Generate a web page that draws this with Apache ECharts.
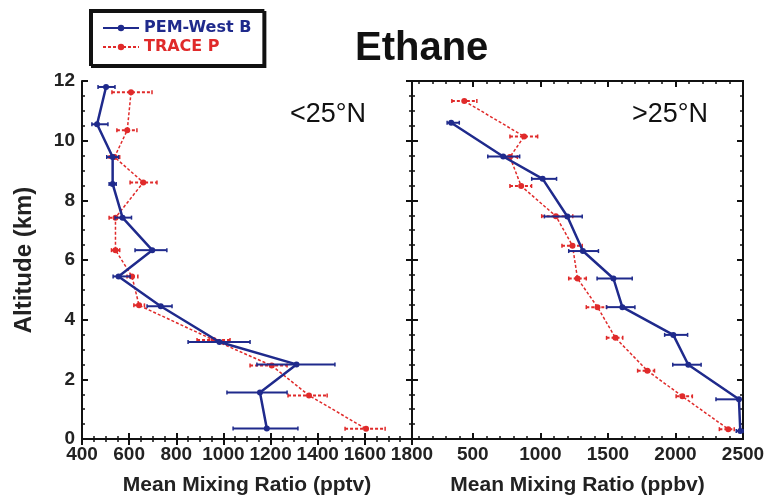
<!DOCTYPE html>
<html>
<head>
<meta charset="utf-8">
<script src="https://cdn.jsdelivr.net/npm/echarts@6/dist/echarts.min.js"></script>
<style>
html, body { margin: 0; padding: 0; background: #fff; }
#main { width: 769px; height: 501px; }
</style>
</head>
<body>
<div id="main"></div>
<script>
// left panel, < 25N (pptv)
var pemLowAlt = [11.8, 10.55, 9.45, 8.55, 7.42, 6.33, 5.45, 4.45, 3.25, 2.5, 1.56, 0.35];
var pemLowVal = [502, 464, 530, 530, 572, 698, 555, 734, 983, 1310, 1155, 1184];
var pemLowLo = [468, 442, 505, 515, 540, 625, 532, 676, 850, 1142, 1015, 1041];
var pemLowHi = [540, 510, 555, 545, 610, 760, 604, 782, 1113, 1473, 1270, 1316];

var traceLowAlt = [11.62, 10.35, 9.45, 8.6, 7.42, 6.33, 5.45, 4.48, 3.32, 2.46, 1.46, 0.34];
var traceLowVal = [608, 592, 538, 660, 542, 542, 612, 642, 958, 1205, 1363, 1605];
var traceLowLo = [527, 548, 515, 604, 515, 525, 591, 620, 888, 1113, 1274, 1516];
var traceLowHi = [697, 633, 560, 718, 570, 560, 637, 665, 1028, 1270, 1440, 1686];

// right panel, > 25N (ppbv)
var pemHighAlt = [10.6, 9.47, 8.72, 7.46, 6.3, 5.38, 4.42, 3.49, 2.49, 1.33, 0.27];
var pemHighVal = [340, 725, 1017, 1200, 1315, 1541, 1607, 1984, 2095, 2470, 2480];
var pemHighLo = [310, 611, 936, 1030, 1210, 1420, 1490, 1920, 1980, 2300, 2450];
var pemHighHi = [400, 847, 1120, 1310, 1430, 1680, 1700, 2090, 2190, 2480, 2500];

var traceHighAlt = [11.33, 10.14, 9.45, 8.48, 7.47, 6.48, 5.38, 4.42, 3.39, 2.29, 1.43, 0.33];
var traceHighVal = [437, 880, 775, 858, 1115, 1238, 1275, 1423, 1556, 1792, 2051, 2391];
var traceHighLo = [345, 775, 740, 775, 1010, 1160, 1210, 1340, 1490, 1720, 2005, 2325];
var traceHighHi = [530, 980, 830, 935, 1240, 1310, 1340, 1490, 1610, 1845, 2125, 2435];

var ppbvTicks = [500, 1000, 1500, 2000, 2500];
var ppbvMinor = [];
for (var m = 100; m < 2500; m += 100) ppbvMinor.push(m);

var blue = '#1f2a8c';
var red = '#e02a2a';
var font = 'Liberation Sans, Arial, sans-serif';

function pts(vals, alts) {
    return vals.map(function (v, i) { return [v, alts[i]]; });
}
function bars(lo, hi, alts) {
    return lo.map(function (v, i) { return [v, hi[i], alts[i]]; });
}
function plain(v) { return String(v); }
function errRender(color, dashed, width) {
    return function (params, api) {
        var a = api.coord([api.value(0), api.value(2)]);
        var b = api.coord([api.value(1), api.value(2)]);
        var st = { stroke: color, lineWidth: width, lineDash: dashed ? [3, 2] : null };
        return {
            type: 'group',
            children: [
                { type: 'line', shape: { x1: a[0], y1: a[1], x2: b[0], y2: b[1] }, style: st },
                { type: 'line', shape: { x1: a[0], y1: a[1] - 2, x2: a[0], y2: a[1] + 2 }, style: { stroke: color, lineWidth: 1.5 } },
                { type: 'line', shape: { x1: b[0], y1: b[1] - 2, x2: b[0], y2: b[1] + 2 }, style: { stroke: color, lineWidth: 1.5 } }
            ]
        };
    };
}

var axisLine = { show: true, lineStyle: { color: '#111', width: 2 } };
var majorTick = { show: true, inside: true, length: 6, lineStyle: { color: '#111', width: 2 } };
var minorTick = { show: true, splitNumber: 4, length: 3, lineStyle: { color: '#111', width: 1.5 } };
var tickLabel = {
    color: '#222', fontSize: 19, fontWeight: 'bold', fontFamily: font,
    formatter: plain, showMinLabel: true, showMaxLabel: true
};
var nameStyle = { color: '#222', fontSize: 21, fontWeight: 'bold', fontFamily: font };

function ppbvAxis(pos, ticks, len, labels) {
    return {
        type: 'value', gridIndex: 1, position: pos, min: 50, max: 2500,
        axisLine: axisLine, splitLine: { show: false },
        axisTick: { show: true, inside: true, length: len, customValues: ticks, lineStyle: { color: '#111', width: len > 4 ? 2 : 1.5 } },
        axisLabel: labels ? Object.assign({ customValues: ppbvTicks, margin: 6 }, tickLabel) : { show: false }
    };
}

var myChart = echarts.init(document.getElementById('main'));
var option = {
    animation: false,
    backgroundColor: '#fff',
    textStyle: { fontFamily: font },
    title: {
        text: 'Ethane', left: 350, top: 24,
        textStyle: { fontSize: 40, fontWeight: 'bold', color: '#111', fontFamily: font }
    },
    legend: {
        data: [
            { name: 'PEM-West B', textStyle: { color: blue } },
            { name: 'TRACE P', textStyle: { color: red } }
        ],
        orient: 'vertical', left: 90, top: 10,
        padding: [10, 12], itemGap: 3, itemWidth: 36, itemHeight: 8,
        backgroundColor: '#fff', borderColor: '#111', borderWidth: 2,
        shadowColor: '#111', shadowOffsetX: 2, shadowOffsetY: 2, shadowBlur: 0,
        textStyle: { fontSize: 16, fontWeight: 'bold', fontFamily: 'DejaVu Sans, sans-serif' }
    },
    grid: [
        { left: 82, right: 357, top: 81, bottom: 59 },
        { left: 412, right: 26, top: 81, bottom: 59 }
    ],
    xAxis: [
        {
            type: 'value', gridIndex: 0, position: 'bottom', min: 400, max: 1800, interval: 200,
            axisLine: axisLine, axisTick: majorTick, minorTick: minorTick, splitLine: { show: false }, minorSplitLine: { show: false },
            axisLabel: Object.assign({ margin: 6 }, tickLabel),
            name: 'Mean Mixing Ratio (pptv)', nameLocation: 'middle', nameGap: 36, nameTextStyle: nameStyle
        },
        {
            type: 'value', gridIndex: 0, position: 'top', min: 400, max: 1800, interval: 200,
            axisLine: axisLine, axisTick: majorTick, minorTick: minorTick, splitLine: { show: false },
            axisLabel: { show: false }
        },
        Object.assign(ppbvAxis('bottom', ppbvTicks, 6, true), {
            name: 'Mean Mixing Ratio (ppbv)', nameLocation: 'middle', nameGap: 36, nameTextStyle: nameStyle
        }),
        ppbvAxis('bottom', ppbvMinor, 3, false),
        ppbvAxis('top', ppbvTicks, 6, false),
        ppbvAxis('top', ppbvMinor, 3, false)
    ],
    yAxis: [
        {
            type: 'value', gridIndex: 0, position: 'left', min: 0, max: 12, interval: 2,
            axisLine: axisLine, axisTick: majorTick, minorTick: minorTick, splitLine: { show: false },
            axisLabel: Object.assign({ margin: 7 }, tickLabel),
            name: 'Altitude (km)', nameLocation: 'middle', nameRotate: 90, nameGap: 46,
            nameTextStyle: { color: '#222', fontSize: 24, fontWeight: 'bold', fontFamily: font }
        },
        {
            type: 'value', gridIndex: 0, position: 'right', min: 0, max: 12, interval: 2,
            axisLine: axisLine, axisTick: majorTick, minorTick: minorTick, splitLine: { show: false },
            axisLabel: { show: false }
        },
        {
            type: 'value', gridIndex: 1, position: 'left', min: 0, max: 12, interval: 2,
            axisLine: axisLine, axisTick: majorTick, minorTick: minorTick, splitLine: { show: false },
            axisLabel: { show: false }
        },
        {
            type: 'value', gridIndex: 1, position: 'right', min: 0, max: 12, interval: 2,
            axisLine: axisLine, axisTick: majorTick, minorTick: minorTick, splitLine: { show: false },
            axisLabel: { show: false }
        }
    ],
    graphic: [
        { type: 'text', left: 290, top: 101, style: { text: '<25°N', fontSize: 27, fill: '#111', fontFamily: font } },
        { type: 'text', left: 632, top: 101, style: { text: '>25°N', fontSize: 27, fill: '#111', fontFamily: font } }
    ],
    series: [
        {
            name: 'PEM-West B', type: 'line', xAxisIndex: 0, yAxisIndex: 0, z: 5,
            data: pts(pemLowVal, pemLowAlt), symbol: 'circle', symbolSize: 6,
            itemStyle: { color: blue }, lineStyle: { color: blue, width: 2.5 }
        },
        {
            name: 'TRACE P', type: 'line', xAxisIndex: 0, yAxisIndex: 0, z: 4,
            data: pts(traceLowVal, traceLowAlt), symbol: 'circle', symbolSize: 6,
            itemStyle: { color: red }, lineStyle: { color: red, width: 1.5, type: [3, 2] }
        },
        {
            name: 'PEM-West B', type: 'line', xAxisIndex: 2, yAxisIndex: 2, z: 5,
            data: pts(pemHighVal, pemHighAlt), symbol: 'circle', symbolSize: 6,
            itemStyle: { color: blue }, lineStyle: { color: blue, width: 2.5 }
        },
        {
            name: 'TRACE P', type: 'line', xAxisIndex: 2, yAxisIndex: 2, z: 4,
            data: pts(traceHighVal, traceHighAlt), symbol: 'circle', symbolSize: 6,
            itemStyle: { color: red }, lineStyle: { color: red, width: 1.5, type: [3, 2] }
        },
        {
            name: 'PEM-West B', type: 'custom', xAxisIndex: 0, yAxisIndex: 0, z: 5,
            data: bars(pemLowLo, pemLowHi, pemLowAlt), renderItem: errRender(blue, false, 2),
            encode: { x: [0, 1], y: 2 }
        },
        {
            name: 'TRACE P', type: 'custom', xAxisIndex: 0, yAxisIndex: 0, z: 4,
            data: bars(traceLowLo, traceLowHi, traceLowAlt), renderItem: errRender(red, true, 2),
            encode: { x: [0, 1], y: 2 }
        },
        {
            name: 'PEM-West B', type: 'custom', xAxisIndex: 2, yAxisIndex: 2, z: 5,
            data: bars(pemHighLo, pemHighHi, pemHighAlt), renderItem: errRender(blue, false, 2),
            encode: { x: [0, 1], y: 2 }
        },
        {
            name: 'TRACE P', type: 'custom', xAxisIndex: 2, yAxisIndex: 2, z: 4,
            data: bars(traceHighLo, traceHighHi, traceHighAlt), renderItem: errRender(red, true, 2),
            encode: { x: [0, 1], y: 2 }
        }
    ]
};
myChart.setOption(option);
</script>
</body>
</html>
